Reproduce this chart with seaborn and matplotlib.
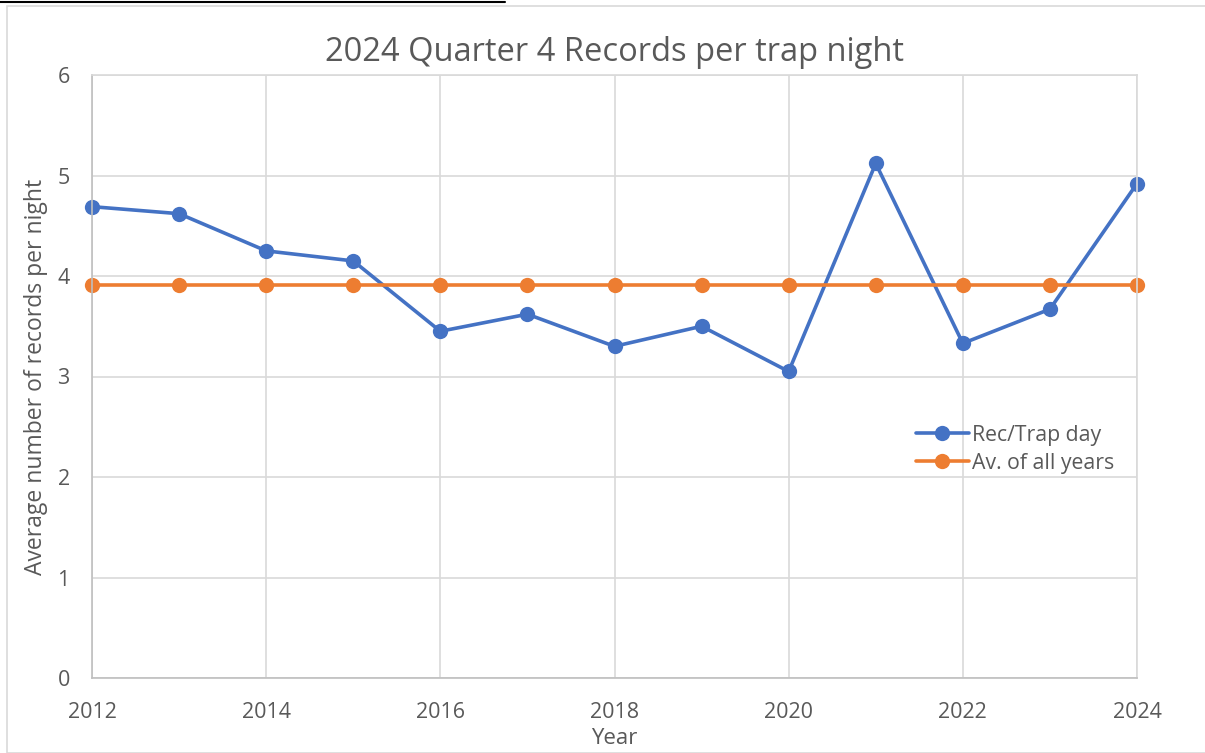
import matplotlib
matplotlib.use("Agg")
import matplotlib.pyplot as plt
import seaborn as sns
import pandas as pd
from matplotlib.patches import Rectangle
from matplotlib.lines import Line2D

years = [2012, 2013, 2014, 2015, 2016, 2017, 2018, 2019, 2020, 2021, 2022, 2023, 2024]
rec_per_trap = [4.69, 4.62, 4.25, 4.15, 3.45, 3.62, 3.30, 3.50, 3.05, 5.12, 3.33, 3.67, 4.92]
avg_all_years = [3.91] * len(years)
series_names = ["Rec/Trap day", "Av. of all years"]
x_ticks = [2012, 2014, 2016, 2018, 2020, 2022, 2024]
y_ticks = [0, 1, 2, 3, 4, 5, 6]

df = pd.DataFrame({
    "Year": years * 2,
    "Value": rec_per_trap + avg_all_years,
    "Series": [series_names[0]] * len(years) + [series_names[1]] * len(years),
})

sns.set_theme(style="white")
plt.rcParams["font.family"] = ["Open Sans", "DejaVu Sans"]
text_color = "#595959"
grid_color = "#D9D9D9"

fig = plt.figure(figsize=(12.05, 7.53), dpi=100)
ax = fig.add_axes([92 / 1205, (753 - 678) / 753, (1137 - 92) / 1205, (678 - 75) / 753])

sns.lineplot(data=df, x="Year", y="Value", hue="Series",
             palette=["#4472C4", "#ED7D31"], marker="o", markersize=11,
             markeredgewidth=0, linewidth=2.6, ax=ax, legend=True)
for ln in ax.lines:
    ln.set_clip_on(False)

ax.set_xlim(2012, 2024)
ax.set_ylim(0, 6)
ax.set_xticks(x_ticks)
ax.set_yticks(y_ticks)
ax.grid(True, color=grid_color, linewidth=1.2)
ax.set_axisbelow(True)
for sp in ax.spines.values():
    sp.set_color(grid_color)
    sp.set_linewidth(1.2)
ax.spines["bottom"].set_color("#BFBFBF")
ax.spines["left"].set_color("#BFBFBF")
ax.tick_params(axis="both", colors=text_color, labelsize=15.5, length=0)
ax.tick_params(axis="x", pad=17)
ax.tick_params(axis="y", pad=16)
for lbl in ax.get_xticklabels() + ax.get_yticklabels():
    lbl.set_color(text_color)

ax.set_xlabel("Year", fontsize=16, color=text_color, labelpad=4)
ax.set_ylabel("Average number of records per night", fontsize=16.5, color=text_color, labelpad=7)
ax.set_title("2024 Quarter 4 Records per trap night", fontsize=23.5, color=text_color, pad=10)

leg = ax.legend(loc="upper left", bbox_to_anchor=(0.78, 0.434), frameon=False,
                fontsize=15.3, handlelength=2.5, handletextpad=0.15, labelspacing=0.33,
                borderaxespad=0)
for t in leg.get_texts():
    t.set_color(text_color)

# chart frame decorations
fig.patches.append(Rectangle((7 / 1205, 0), 1.1, 1 - 6 / 753, transform=fig.transFigure,
                             fill=False, edgecolor=grid_color, linewidth=1.2))
fig.lines.append(Line2D([0, 505 / 1205], [1 - 1.5 / 753, 1 - 1.5 / 753],
                        transform=fig.transFigure, color="black", linewidth=1.5))

fig.savefig("out.png", dpi=100)
